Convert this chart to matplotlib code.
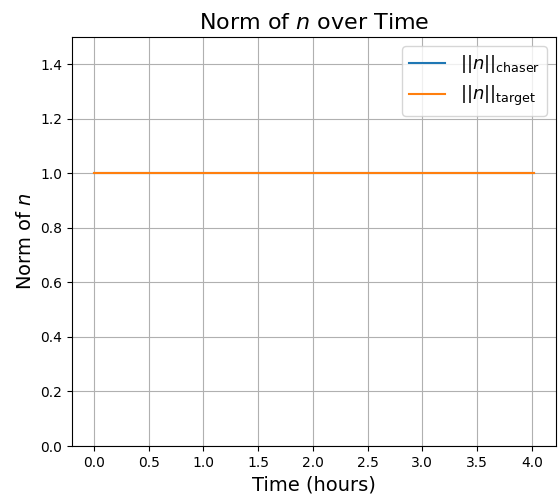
import numpy as np
import matplotlib
matplotlib.use('Agg')
import matplotlib.pyplot as plt

# time samples in hours and the unit-normal norms for both spacecraft
t_hours = [0.0, 0.5, 1.0, 1.5, 2.0, 2.5, 3.0, 3.5, 4.02]
norm_chaser = [1.0, 1.0, 1.0, 1.0, 1.0, 1.0, 1.0, 1.0, 1.0]
norm_target = [1.0, 1.0, 1.0, 1.0, 1.0, 1.0, 1.0, 1.0, 1.0]

fig = plt.figure(figsize=(5.58, 4.96), dpi=100)
ax = fig.add_axes([72/558, 50/496, 484/558, 409/496])

ax.plot(t_hours, norm_chaser, label=r'$||n||_{\rm chaser}$')
ax.plot(t_hours, norm_target, label=r'$||n||_{\rm target}$')

ax.set_ylim(0, 1.5)
ax.set_title(r'Norm of $n$ over Time', fontsize=16)
ax.set_xlabel('Time (hours)', fontsize=14)
ax.set_ylabel(r'Norm of $n$', fontsize=14)
ax.legend(fontsize=13)
ax.grid(True)

fig.savefig('out.png', dpi=100)
